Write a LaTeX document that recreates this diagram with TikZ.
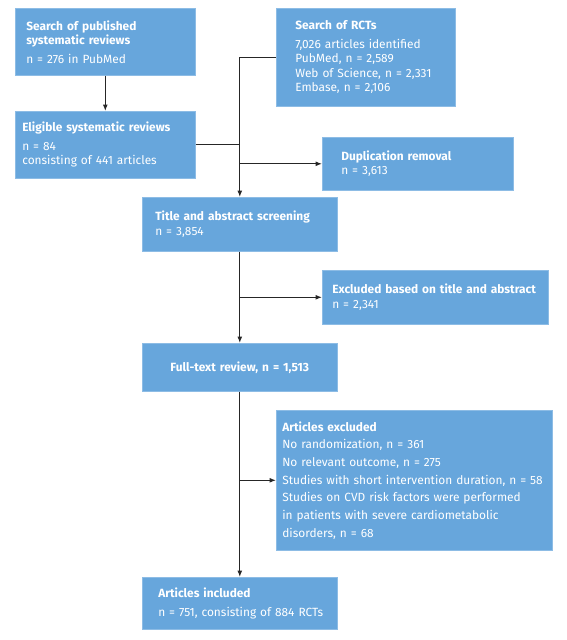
\documentclass[tikz,border=0pt]{standalone}
\usepackage{fontspec}
\setmainfont{Fira Sans}
\usetikzlibrary{arrows.meta}
\definecolor{boxblue}{HTML}{67A6DC}
\tikzset{
  box/.style={anchor=north west, fill=boxblue, draw=boxblue!75!white, line width=0.6pt,
    text=white, align=left, inner ysep=0pt, font=\fontsize{11.9}{14.5}\selectfont},
  link/.style={draw=black!85, line width=1.1pt},
  arr/.style={link, -{Latex[length=6.5pt,width=5pt]}}
}
\begin{document}
\begin{tikzpicture}[x=1pt,y=-1pt]
  \useasboundingbox (0,0) rectangle (567,640);
  % left column: systematic reviews
  \node (search)  at (15,8)   [box, text width=158pt, inner xsep=11pt, minimum height=67pt]
    {\textbf{Search of published}\\\textbf{systematic reviews}\\[4pt]n = 276 in PubMed};
  \node (eligible)  at (15,111)  [box, text width=166pt, inner xsep=7pt, minimum height=67pt]
    {\textbf{Eligible systematic reviews}\\[4pt]n = 84\\consisting of 441 articles};
  % right column: RCT search and exclusions
  \node (rct)  at (276,8)  [box, text width=141pt, inner xsep=19pt, minimum height=98pt]
    {\textbf{Search of RCTs}\\[4pt]7,026 articles identified\\PubMed, n = 2,589\\Web of Science, n = 2,331\\Embase, n = 2,106};
  \node (dup)  at (322,137)  [box, text width=153pt, inner xsep=19pt, minimum height=53pt]
    {\textbf{Duplication removal}\\n = 3,613};
  \node (screen)  at (142,197)  [box, text width=169pt, inner xsep=13pt, minimum height=54pt]
    {\textbf{Title and abstract screening}\\n = 3,854};
  \node (excl)  at (322,270)  [box, text width=206pt, inner xsep=10pt, minimum height=54pt]
    {\textbf{Excluded based on title and abstract}\\n = 2,341};
  \node (fulltext)  at (142,343)  [box, align=center, text width=185pt, inner xsep=5pt, minimum height=48pt]
    {\textbf{Full-text review, n = 1,513}};
  \node (artexcl)  at (276,410)  [box, text width=264pt, inner xsep=6pt, minimum height=140pt,
    font=\fontsize{11.9}{17.7}\selectfont]
    {\textbf{Articles excluded}\\No randomization, n = 361\\No relevant outcome, n = 275\\Studies with short intervention duration, n = 58\\Studies on CVD risk factors were performed\\in patients with severe cardiometabolic\\disorders, n = 68};
  \node (included)  at (142,577)  [box, text width=163pt, inner xsep=16pt, minimum height=52pt]
    {\textbf{Articles included}\\[4pt]\mbox{n = 751, consisting of 884 RCTs}};
  % connectors
  \draw[arr] (search.south) -- (eligible.north);
  \draw[arr] (rct.west) -| (screen.north);
  \draw[link] (eligible.east) -- (eligible.east -| screen.north);
  \draw[arr] (dup.west -| screen.north) -- (dup.west);
  \draw[arr] (screen.south) -- (fulltext.north);
  \draw[arr] (excl.west -| screen.south) -- (excl.west);
  \draw[arr] (fulltext.south) -- (included.north);
  \draw[arr] (artexcl.west -| fulltext.south) -- (artexcl.west);
\end{tikzpicture}
\end{document}
